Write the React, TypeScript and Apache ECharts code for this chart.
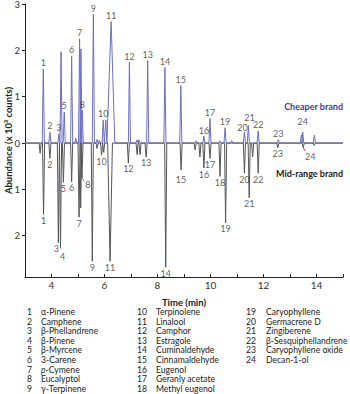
import React, { useEffect, useRef } from 'react';
import * as echarts from 'echarts';

// Retention time (min) of each peak, cheaper brand (upper trace)
const cheaperTimes = [3.69, 3.94, 4.28, 4.36, 4.48, 4.76, 4.92, 5.06, 5.11, 5.16, 5.58, 5.72, 5.81, 5.95, 6.05, 6.25, 6.94, 7.23, 7.30, 7.63, 8.28, 8.88, 9.45, 9.75, 9.98, 10.36, 10.55, 10.80, 11.28, 11.43, 11.80, 12.56, 13.43, 13.48, 13.92];
// Abundance (x 10^3 counts)
const cheaperHeights = [1.60, 0.24, 0.20, 1.97, 0.67, 1.88, 0.10, 2.25, 2.03, 0.70, 2.78, 0.08, 0.06, 0.50, 0.50, 2.62, 1.74, 0.07, 0.07, 1.78, 1.63, 1.24, 0.05, 0.15, 0.53, 0.05, 0.33, 0.05, 0.24, 0.38, 0.26, 0.07, 0.18, 0.24, 0.17];
const cheaperLabels = ['1', '2', '3', '', '5', '6', '', '7', '', '8', '9', '', '', '10', '', '11', '12', '', '', '13', '14', '15', '', '16', '17', '', '19', '', '20', '21', '22', '23', '', '24', ''];

// Mid-range brand (lower, inverted trace)
const midTimes = [3.57, 3.70, 3.94, 4.26, 4.34, 4.45, 4.76, 5.04, 5.10, 5.15, 5.54, 5.72, 5.89, 5.97, 6.21, 6.90, 7.23, 7.34, 7.57, 8.31, 8.89, 9.42, 9.60, 9.75, 9.98, 10.36, 10.57, 11.28, 11.46, 11.59, 11.80, 12.54, 13.50, 13.91];
const midHeights = [-0.22, -1.54, -0.33, -2.15, -2.27, -0.85, -0.84, -1.60, -1.40, -0.75, -2.55, -0.12, -0.26, -0.20, -2.55, -0.43, -0.25, -0.25, -0.30, -2.68, -0.58, -0.15, -0.30, -0.54, -0.33, -0.72, -1.72, -0.65, -1.18, -0.30, -0.65, -0.10, -0.10, -0.05];
const midLabels = ['', '1', '2', '3', '4', '5', '6', '7', '', '8', '9', '', '10', '', '11', '12', '', '', '13', '14', '15', '', '', '16', '17', '18', '19', '20', '21', '', '22', '23', '24', ''];

// Peak half widths in minutes (default for sharp peaks, broad ones listed)
const defaultHalfWidth = 0.04;
const cheaperBroad: Record<string, number> = { '11': 0.14 };
const midBroad: Record<string, number> = { '11': 0.09 };

const yTicks = [-2, -1, 0, 1, 2, 3];

const compoundNames = [
  'α-Pinene', 'Camphene', 'β-Phellandrene', 'β-Pinene', 'β-Myrcene', '3-Carene', '{i|p}-Cymene', 'Eucalyptol', 'γ-Terpinene',
  'Terpinolene', 'Linalool', 'Camphor', 'Estragole', 'Cuminaldehyde', 'Cinnamaldehyde', 'Eugenol', 'Geranly acetate', 'Methyl eugenol',
  'Caryophyllene', 'Germacrene D', 'Zingiberene', 'β-Sesquiphellandrene', 'Caryophyllene oxide', 'Decan-1-ol',
];

const FONT = 'Lato';

function trace(times: number[], values: number[], labels: string[], broad: Record<string, number>) {
  const pts: number[][] = [[3, 0]];
  times.forEach((t, i) => {
    const w = broad[labels[i]] ?? defaultHalfWidth;
    pts.push([t - w, 0], [t, values[i]], [t + w, 0]);
  });
  pts.push([15, 0]);
  return pts;
}

function labelData(times: number[], values: number[], labels: string[], offsets: Record<string, number[]>) {
  const out: any[] = [];
  times.forEach((t, i) => {
    if (!labels[i]) return;
    const item: any = { value: [t, values[i], labels[i]] };
    if (offsets[labels[i]]) item.label = { offset: offsets[labels[i]] };
    out.push(item);
  });
  return out;
}

function leader(times: number[], values: number[], labels: string[], id: string, color: string) {
  const i = labels.indexOf(id);
  const t = times[i];
  const v = values[i];
  return [
    { coord: [t, v], lineStyle: { color, width: 1 } },
    { coord: [t + 0.12, v - 0.12] },
  ];
}

export default function App() {
  const ref = useRef<HTMLDivElement>(null);
  useEffect(() => {
    const chart = echarts.init(ref.current!, null, { renderer: 'svg' });

    const graphic: any[] = [];
    const colX = [[32, 41], [147, 156], [256, 266]];
    const rowY0 = 312;
    const rowH = 9.6;
    const fs = 8.6;
    compoundNames.forEach((name, i) => {
      const col = i < 9 ? 0 : i < 18 ? 1 : 2;
      const row = i < 9 ? i : i < 18 ? i - 9 : i - 18;
      const y = rowY0 + row * rowH;
      graphic.push({
        type: 'text', x: colX[col][0], y,
        style: { text: String(i + 1), fontSize: fs, fontFamily: FONT, fill: '#222', align: 'right', verticalAlign: 'middle' },
      });
      graphic.push({
        type: 'text', x: colX[col][1], y,
        style: {
          text: name, fontSize: fs, fontFamily: FONT, fill: '#222', align: 'left', verticalAlign: 'middle',
          rich: { i: { fontStyle: 'italic', fontSize: fs, fontFamily: FONT, fill: '#222' } },
        },
      });
    });
    graphic.push({
      type: 'text', x: 343, y: 106,
      style: { text: 'Cheaper brand', fontSize: 9, fontWeight: 'bold', fontFamily: FONT, fill: '#3c3f9c', align: 'right', verticalAlign: 'middle' },
    });
    graphic.push({
      type: 'text', x: 343, y: 173,
      style: { text: 'Mid-range brand', fontSize: 9, fontWeight: 'bold', fontFamily: FONT, fill: '#222', align: 'right', verticalAlign: 'middle' },
    });

    const option: any = {
      animation: false,
      textStyle: { fontFamily: FONT },
      grid: { left: 25, right: 7, top: 4, bottom: 117, containLabel: false, outerBoundsMode: 'none' },
      xAxis: {
        type: 'value', min: 3, max: 15, interval: 1,
        name: 'Time (min)', nameLocation: 'middle', nameGap: 20, nameMoveOverlap: false,
        nameTextStyle: { fontSize: 9.5, fontWeight: 'bold', color: '#222', fontFamily: FONT },
        axisLine: { onZero: false, lineStyle: { color: '#222', width: 1 } },
        axisTick: { inside: true, length: 3, lineStyle: { color: '#222' } },
        axisLabel: { fontSize: 10, color: '#333', margin: 3, formatter: (v: number) => (v % 2 === 0 ? String(v) : '') },
        splitLine: { show: false },
      },
      yAxis: {
        type: 'value', min: -2.89, max: 3,
        name: 'Abundance (x 10³ counts)', nameLocation: 'middle', nameGap: 12, nameMoveOverlap: false,
        nameTextStyle: { fontSize: 9.5, fontWeight: 'bold', color: '#222', fontFamily: FONT },
        axisLine: { show: true, onZero: false, lineStyle: { color: '#222', width: 1 } },
        axisTick: { show: true, length: 3, customValues: yTicks, lineStyle: { color: '#222' } },
        axisLabel: { fontSize: 9.5, color: '#333', margin: 5, customValues: yTicks, formatter: (v: number) => String(Math.abs(Math.round(v))) },
        splitLine: { show: false },
      },
      graphic,
      series: [
        {
          type: 'line', data: trace(cheaperTimes, cheaperHeights, cheaperLabels, cheaperBroad),
          showSymbol: false, symbol: 'none', lineStyle: { color: '#6d6fc4', width: 1 }, z: 2,
        },
        {
          type: 'line', data: trace(midTimes, midHeights, midLabels, midBroad),
          showSymbol: false, symbol: 'none', lineStyle: { color: '#555', width: 1 }, z: 3,
          markLine: {
            silent: true, symbol: 'none', label: { show: false },
            data: [
              leader(midTimes, midHeights, midLabels, '8', '#777'),
              leader(midTimes, midHeights, midLabels, '24', '#d0452e'),
            ],
          },
        },
        {
          type: 'scatter', data: labelData(cheaperTimes, cheaperHeights, cheaperLabels, { '24': [0, -4], '20': [-2, 2], '21': [1, -2] }),
          symbolSize: 1, itemStyle: { color: 'rgba(0,0,0,0)' }, z: 5,
          label: { show: true, position: 'top', distance: 1, fontSize: 9, color: '#333', fontFamily: FONT, formatter: (p: any) => p.value[2] },
        },
        {
          type: 'scatter', data: labelData(midTimes, midHeights, midLabels, { '3': [-2, 0], '4': [2, 2], '8': [6, 1], '24': [7, 3], '15': [0, 4] }),
          symbolSize: 1, itemStyle: { color: 'rgba(0,0,0,0)' }, z: 5,
          label: { show: true, position: 'bottom', distance: 1, fontSize: 9, color: '#333', fontFamily: FONT, formatter: (p: any) => p.value[2] },
        },
      ],
    };
    chart.setOption(option);
    return () => chart.dispose();
  }, []);
  return <div ref={ref} style={{ position: 'fixed', left: 0, top: 0, width: 350, height: 394, background: '#fff' }} />;
}
